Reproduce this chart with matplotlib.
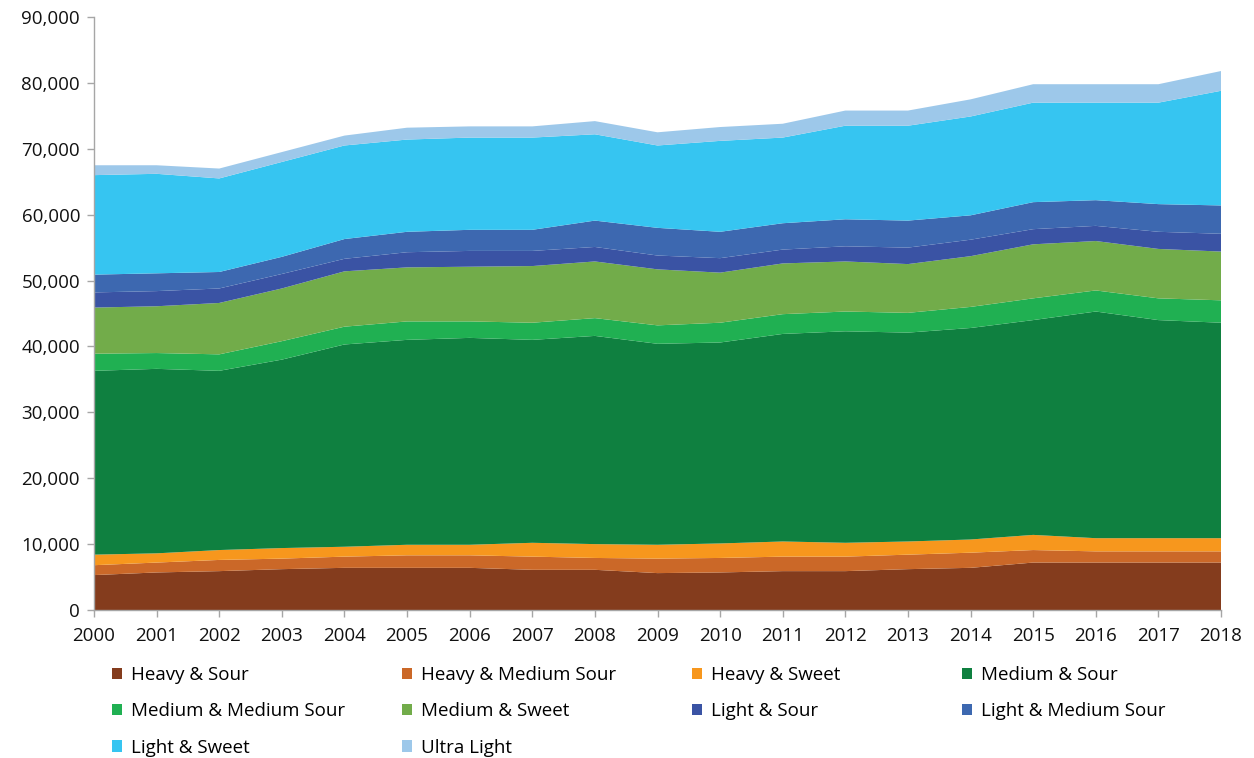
import matplotlib
matplotlib.use("Agg")
import matplotlib.pyplot as plt
from matplotlib.patches import Patch
from matplotlib.ticker import FuncFormatter

years = list(range(2000, 2019))

heavy_sour = [5300, 5700, 5900, 6200, 6400, 6400, 6400, 6100, 6100, 5600, 5700, 5900, 5900, 6200, 6400, 7200, 7200, 7200, 7200]
heavy_medium_sour = [1500, 1500, 1700, 1600, 1700, 1900, 1900, 2000, 1800, 2200, 2200, 2200, 2200, 2200, 2300, 1900, 1700, 1700, 1700]
heavy_sweet = [1600, 1400, 1500, 1600, 1500, 1600, 1600, 2100, 2100, 2100, 2200, 2300, 2100, 2000, 2000, 2300, 2000, 2000, 2000]
medium_sour = [27900, 28000, 27200, 28600, 30700, 31100, 31400, 30800, 31600, 30500, 30500, 31500, 32100, 31700, 32100, 32600, 34400, 33100, 32700]
medium_medium_sour = [2600, 2400, 2500, 2800, 2700, 2800, 2500, 2600, 2700, 2800, 3000, 3000, 3000, 3000, 3200, 3300, 3200, 3300, 3400]
medium_sweet = [7000, 7100, 7800, 8000, 8400, 8200, 8300, 8600, 8600, 8500, 7600, 7700, 7600, 7400, 7700, 8200, 7500, 7500, 7400]
light_sour = [2300, 2300, 2200, 2200, 1900, 2300, 2400, 2300, 2200, 2100, 2200, 2100, 2300, 2500, 2500, 2300, 2300, 2600, 2700]
light_medium_sour = [2700, 2700, 2500, 2600, 3000, 3100, 3200, 3200, 4000, 4200, 4000, 4000, 4100, 4100, 3700, 4100, 3900, 4200, 4300]
light_sweet = [15100, 15100, 14200, 14400, 14200, 14000, 14000, 14000, 13100, 12500, 13800, 13000, 14200, 14400, 15000, 15100, 14800, 15400, 17400]
ultra_light = [1500, 1300, 1500, 1500, 1500, 1800, 1700, 1700, 2000, 2000, 2100, 2100, 2300, 2300, 2600, 2800, 2800, 2800, 3000]

labels = ["Heavy & Sour", "Heavy & Medium Sour", "Heavy & Sweet", "Medium & Sour",
          "Medium & Medium Sour", "Medium & Sweet", "Light & Sour", "Light & Medium Sour",
          "Light & Sweet", "Ultra Light"]
series = [heavy_sour, heavy_medium_sour, heavy_sweet, medium_sour, medium_medium_sour,
          medium_sweet, light_sour, light_medium_sour, light_sweet, ultra_light]
colors = ["#843C1D", "#CB6828", "#F7971D", "#0F8040", "#20B052",
          "#72AC4A", "#3A53A4", "#3D68B0", "#36C5F1", "#9DC8EA"]

plt.rcParams['font.family'] = ['Open Sans', 'DejaVu Sans']

fig = plt.figure(figsize=(12.54, 7.58), dpi=100)
ax = fig.add_axes([94/1254, 1 - 610/758, (1221 - 94)/1254, (610 - 17)/758])

ax.stackplot(years, *series, colors=colors, labels=labels, linewidth=0)

ax.set_xlim(2000, 2018)
ax.set_ylim(0, 90000)
ax.set_xticks(years)
ax.set_yticks(range(0, 90001, 10000))
ax.yaxis.set_major_formatter(FuncFormatter(lambda v, p: f"{int(v):,}"))
for s in ["top", "right"]:
    ax.spines[s].set_visible(False)
for s in ["left", "bottom"]:
    ax.spines[s].set_color("#A6A6A6")
    ax.spines[s].set_linewidth(1.0)
ax.tick_params(axis="both", colors="#A6A6A6", length=5, width=1, labelcolor="#111111", labelsize=13.5)
ax.tick_params(axis="x", pad=7)
ax.tick_params(axis="y", pad=5)

handles = [Patch(facecolor=c, edgecolor="none") for c in colors]
col_x = [112/1254, 402/1254, 692/1254, 962/1254]
for ci in range(4):
    idx = [i for i in range(ci, 10, 4)]
    fig.legend([handles[i] for i in idx], [labels[i] for i in idx],
               loc="upper left", bbox_to_anchor=(col_x[ci], 1 - 666/758),
               frameon=False, ncol=1, fontsize=13.5, handlelength=0.55, handleheight=0.55,
               handletextpad=0.45, labelspacing=0.98, borderaxespad=0, borderpad=0)

fig.savefig("out.png", dpi=100)
